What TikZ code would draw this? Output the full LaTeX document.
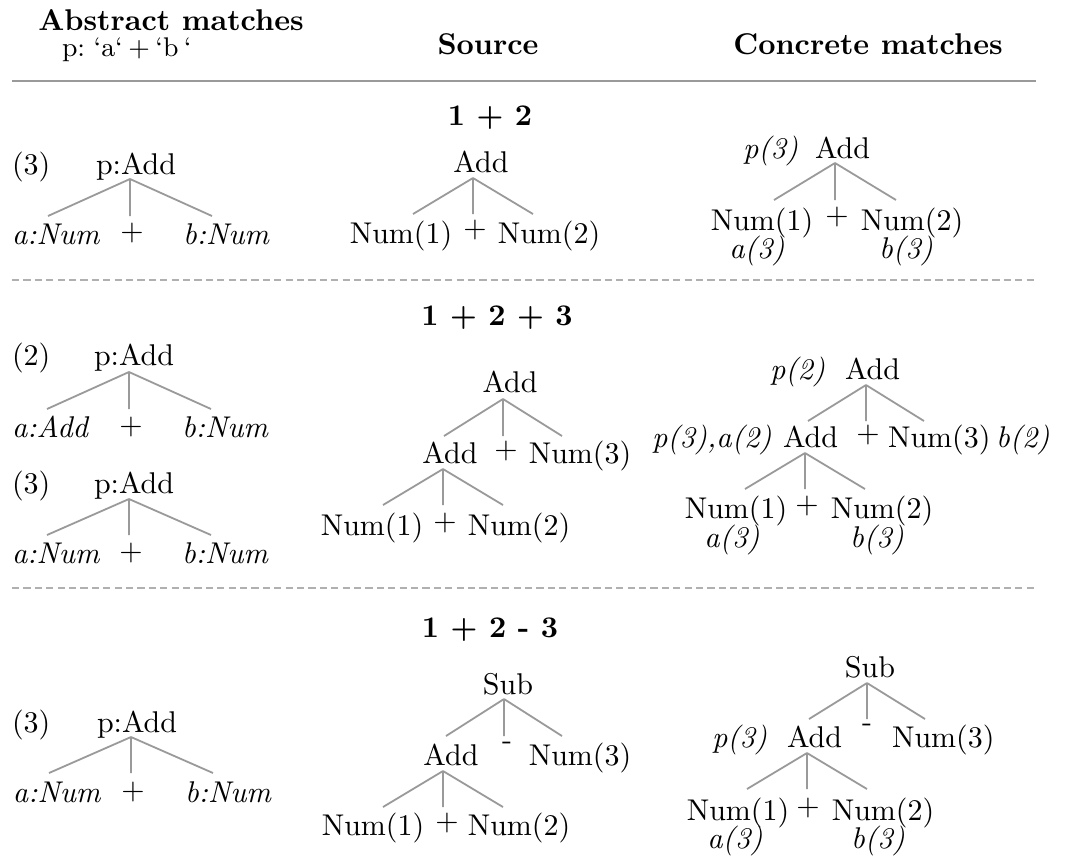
\documentclass[tikz,border=0pt]{standalone}
\usetikzlibrary{calc}
\definecolor{edgegray}{HTML}{9A9A9A}
\definecolor{rulegray}{HTML}{9A9A9A}
\definecolor{dashgray}{HTML}{B0B0B0}
\newcommand\drawfan[4]{%
  \coordinate (#1j) at #2;
  \coordinate (#1l) at ($(#1j)+(-#3,#4)$);
  \coordinate (#1m) at ($(#1j)+(0,#4)$);
  \coordinate (#1r) at ($(#1j)+(#3,#4)$);
  \draw[edge] (#1j) -- (#1l) (#1j) -- (#1m) (#1j) -- (#1r);}
\begin{document}
\begin{tikzpicture}[x=0.33333pt,y=-0.33333pt,
  every node/.style={inner sep=0pt,outer sep=0pt},
  txt/.style={anchor=base},
  txtw/.style={anchor=base west},
  op/.style={anchor=north},
  lab/.style={anchor=base,font=\itshape},
  labw/.style={anchor=base west,font=\itshape},
  edge/.style={draw=edgegray,line width=0.6pt},
  toprule/.style={draw=rulegray,line width=0.8pt},
  seprule/.style={draw=dashgray,line width=0.45pt,dash pattern=on 2.4pt off 1.4pt}]
\useasboundingbox[fill=white] (0,0) rectangle (1067,859);
% header
\node[txt] (hA) at (171,30) {\textbf{Abstract matches}};
\node[txtw] (hP) at (62,56) {\small\spaceskip=0.2em plus 0.1em p: `a` + `b `};
\node[txt] (hS) at (488,54) {\textbf{Source}};
\node[txt] (hC) at (868,54) {\textbf{Concrete matches}};
\coordinate (rule0l) at (12,81); \coordinate (rule0r) at (1036,81);
\draw[toprule] (rule0l) -- (rule0r);
% ---------------- row 1
\node[txt] (t1) at (490,125) {\textbf{1 + 2}};
\node[txtw] (a1n) at (12,174) {(3)};
\node[txtw] (a1r) at (96,174) {p:Add};
\drawfan{a1}{(130,179)}{82}{37}
\node[labw] (a1a) at (12,244) {a:Num};
\node[op] (a1p) at (132,223.5) {+};
\node[labw] (a1b) at (183,244) {b:Num};
\node[txt] (s1r) at (481,172) {Add};
\drawfan{s1}{(473,178)}{60}{36}
\node[txt] (s1a) at (401,243) {Num(1)};
\node[op] (s1p) at (475,220.5) {+};
\node[txt] (s1b) at (549,243) {Num(2)};
\node[labw] (c1lp) at (743,158) {p(3)};
\node[txtw] (c1r) at (815,158) {Add};
\drawfan{c1}{(835,163)}{61}{37}
\node[txt] (c1a) at (762,230) {Num(1)};
\node[lab] (c1la) at (757,258) {a(3)};
\node[op] (c1p) at (837,207.5) {+};
\node[txt] (c1b) at (912,230) {Num(2)};
\node[lab] (c1lb) at (906,258) {b(3)};
\coordinate (rule1l) at (12,280); \coordinate (rule1r) at (1036,280);
\draw[seprule] (rule1l) -- (rule1r);
% ---------------- row 2
\node[txt] (t2) at (497,325) {\textbf{1 + 2 + 3}};
\node[txtw] (a2n) at (12,365) {(2)};
\node[txtw] (a2r) at (94,365) {p:Add};
\drawfan{a2}{(129,372)}{82}{37}
\node[labw] (a2a) at (12,437) {a:Add};
\node[op] (a2p) at (131,416.5) {+};
\node[labw] (a2b) at (182,437) {b:Num};
\node[txtw] (a3n) at (12,493) {(3)};
\node[txtw] (a3r) at (94,493) {p:Add};
\drawfan{a3}{(129,499)}{82}{36}
\node[labw] (a3a) at (12,563) {a:Num};
\node[op] (a3p) at (131,542.5) {+};
\node[labw] (a3b) at (182,563) {b:Num};
\node[txt] (s2r) at (510,392) {Add};
\drawfan{s2}{(503,399)}{59}{37}
\node[txt] (s2a) at (450,463) {Add};
\node[op] (s2p) at (506,440.5) {+};
\node[txt] (s2b) at (580,463) {Num(3)};
\drawfan{s2a}{(443,469)}{60}{36}
\node[txt] (s2aa) at (372,535) {Num(1)};
\node[op] (s2ap) at (445,512.5) {+};
\node[txt] (s2ab) at (519,535) {Num(2)};
\node[labw] (c2lp) at (770,379) {p(2)};
\node[txtw] (c2r) at (845,379) {Add};
\drawfan{c2}{(866,385)}{58}{36}
\node[labw] (c2la) at (652,447) {p(3),a(2)};
\node[txtw] (c2a) at (783,447) {Add};
\node[op] (c2p) at (868,424.5) {+};
\node[txtw] (c2b) at (888,447) {Num(3)};
\node[labw] (c2lb) at (996,447) {b(2)};
\drawfan{c2a}{(805,453)}{60}{36}
\node[txt] (c2aa) at (736,518) {Num(1)};
\node[lab] (c2laa) at (732,547) {a(3)};
\node[op] (c2ap) at (807,495.5) {+};
\node[txt] (c2ab) at (882,518) {Num(2)};
\node[lab] (c2lab) at (877,547) {b(3)};
\coordinate (rule2l) at (12,588); \coordinate (rule2r) at (1036,588);
\draw[seprule] (rule2l) -- (rule2r);
% ---------------- row 3
\node[txt] (t3) at (490,637) {\textbf{1 + 2 - 3}};
\node[txtw] (a4n) at (12,732) {(3)};
\node[txtw] (a4r) at (97,732) {p:Add};
\drawfan{a4}{(131,737)}{82}{36}
\node[labw] (a4a) at (13,802) {a:Num};
\node[op] (a4p) at (133,781.5) {+};
\node[labw] (a4b) at (185,802) {b:Num};
\node[txt] (s3r) at (508,694) {Sub};
\drawfan{s3}{(504,699)}{58}{37}
\node[txt] (s3a) at (451,765) {Add};
\node[op] (s3m) at (507,742.5) {-};
\node[txt] (s3b) at (580,765) {Num(3)};
\drawfan{s3a}{(443,771)}{60}{36}
\node[txt] (s3aa) at (373,835) {Num(1)};
\node[op] (s3ap) at (447,812.5) {+};
\node[txt] (s3ab) at (519,835) {Num(2)};
\node[txt] (c3r) at (870,677) {Sub};
\drawfan{c3}{(867,683)}{58}{36}
\node[labw] (c3la) at (712,747) {p(3)};
\node[txtw] (c3a) at (787,747) {Add};
\node[op] (c3m) at (867,724.5) {-};
\node[txtw] (c3b) at (892,747) {Num(3)};
\drawfan{c3a}{(807,753)}{60}{36}
\node[txt] (c3aa) at (738,820) {Num(1)};
\node[lab] (c3laa) at (735,848) {a(3)};
\node[op] (c3ap) at (808,797.5) {+};
\node[txt] (c3ab) at (883,820) {Num(2)};
\node[lab] (c3lab) at (878,848) {b(3)};
\end{tikzpicture}
\end{document}
